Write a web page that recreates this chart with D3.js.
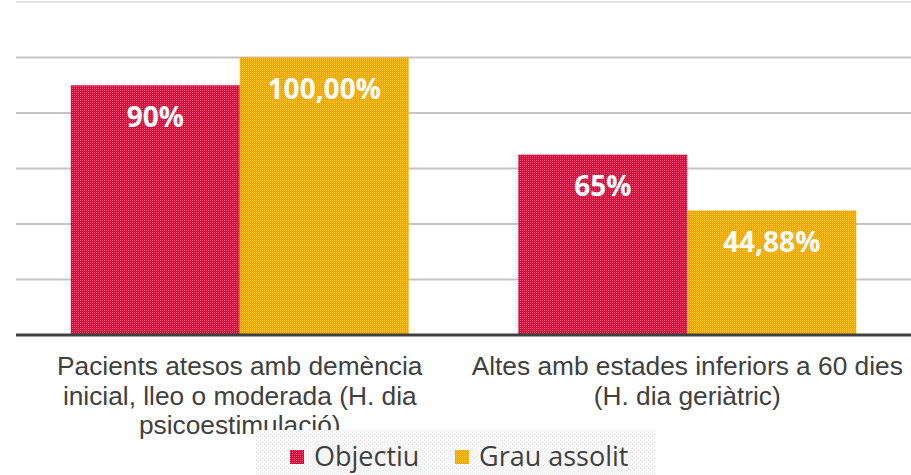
<!DOCTYPE html>
<html>
<head>
<meta charset="utf-8">
<script src="https://cdn.jsdelivr.net/npm/d3@7"></script>
<style>
  body { margin: 0; background: #fff; }
  svg { display: block; }
</style>
</head>
<body>
<svg></svg>
<script>
// Data
const categories = [
    ["Pacients atesos amb demència", "inicial, lleo o moderada (H. dia", "psicoestimulació)"],
    ["Altes amb estades inferiors a 60 dies", "(H. dia geriàtric)"]
];
const seriesNames = ["Objectiu", "Grau assolit"];
const objectiu = [90, 65];
const grauAssolit = [100, 44.88];
const labelsObjectiu = ["90%", "65%"];
const labelsGrau = ["100,00%", "44,88%"];
const yTicks = [0, 20, 40, 60, 80, 100, 120];

const colors = ["#d4103e", "#f0aa00"];
const light = ["#ee6185", "#fbcb45"];

const svgWidth = 911;
const svgHeight = 475;
const margin = { top: 2, right: 0, bottom: 140, left: 16 };
const w = svgWidth - margin.left - margin.right;
const h = 335 - margin.top;

const root = d3.select("svg")
    .attr("width", svgWidth)
    .attr("height", svgHeight);

// Grid-like dithered fill patterns
const defs = root.append("defs");
colors.forEach((c, i) => {
    const p = defs.append("pattern")
        .attr("id", "pat" + i)
        .attr("patternUnits", "userSpaceOnUse")
        .attr("width", 4)
        .attr("height", 4);
    p.append("rect").attr("width", 4).attr("height", 4).attr("fill", c);
    [[0, 0], [2, 0], [0, 2], [2, 2]].forEach(([x, y]) => {
        p.append("rect").attr("x", x).attr("y", y).attr("width", 1).attr("height", 1)
            .attr("fill", light[i]).attr("opacity", 0.7);
    });
});

// legend background texture
const lp = defs.append("pattern")
    .attr("id", "patLegend")
    .attr("patternUnits", "userSpaceOnUse")
    .attr("width", 4)
    .attr("height", 4);
lp.append("rect").attr("width", 4).attr("height", 4).attr("fill", "#f7f7f7");
lp.append("rect").attr("width", 1).attr("height", 1).attr("fill", "#ececec");
lp.append("rect").attr("x", 2).attr("y", 2).attr("width", 1).attr("height", 1).attr("fill", "#ececec");

const svg = root.append("g")
    .attr("transform", `translate(${margin.left}, ${margin.top})`);

// Scales
const x0 = d3.scaleBand()
    .domain(d3.range(categories.length))
    .range([0, w])
    .padding(0);

const x1 = d3.scaleBand()
    .domain([0, 1])
    .range([0, x0.bandwidth()])
    .paddingOuter(0.324)
    .paddingInner(0);

const yScale = d3.scaleLinear()
    .domain([0, 120])
    .range([h, 0]);

// Gridlines
svg.append("g")
    .selectAll("line")
    .data(yTicks.slice(1))
    .enter()
    .append("line")
    .attr("x1", 0)
    .attr("x2", w)
    .attr("y1", d => yScale(d))
    .attr("y2", d => yScale(d))
    .attr("stroke", d => d === 120 ? "#e2e2e2" : "#c4c4c4")
    .attr("stroke-width", 2);

// Bars
const series = [objectiu, grauAssolit];
const labels = [labelsObjectiu, labelsGrau];

series.forEach((vals, s) => {
    svg.selectAll(".bar" + s)
        .data(vals)
        .enter()
        .append("rect")
        .attr("class", "bar" + s)
        .attr("x", (d, i) => x0(i) + x1(s))
        .attr("y", d => yScale(d))
        .attr("width", x1.bandwidth())
        .attr("height", d => h - yScale(d))
        .attr("fill", `url(#pat${s})`);

    svg.selectAll(".lbl" + s)
        .data(vals)
        .enter()
        .append("text")
        .attr("x", (d, i) => x0(i) + x1(s) + x1.bandwidth() / 2)
        .attr("y", d => yScale(d) + 32)
        .attr("dy", "0.35em")
        .attr("text-anchor", "middle")
        .attr("font-family", "'Open Sans', sans-serif")
        .attr("font-weight", "bold")
        .attr("font-size", "28px")
        .attr("fill", "#fff")
        .text((d, i) => labels[s][i]);
});

// Baseline
svg.append("line")
    .attr("x1", 0)
    .attr("x2", w)
    .attr("y1", h)
    .attr("y2", h)
    .attr("stroke", "#404040")
    .attr("stroke-width", 3);

// Category labels
categories.forEach((lines, i) => {
    const t = svg.append("text")
        .attr("text-anchor", "middle")
        .attr("font-family", "'Liberation Sans', Arial, sans-serif")
        .attr("font-size", "26.3px")
        .attr("fill", "#404040");
    lines.forEach((ln, j) => {
        t.append("tspan")
            .attr("x", x0(i) + x0.bandwidth() / 2)
            .attr("y", 375 - margin.top + j * 29.5)
            .text(ln);
    });
});

// Legend
const legend = root.append("g");
legend.append("rect")
    .attr("x", 256)
    .attr("y", 430)
    .attr("width", 400)
    .attr("height", 45)
    .attr("fill", "url(#patLegend)");

const legendX = [290, 455];
seriesNames.forEach((name, s) => {
    legend.append("rect")
        .attr("x", legendX[s])
        .attr("y", 450)
        .attr("width", 14)
        .attr("height", 14)
        .attr("fill", `url(#pat${s})`);
    legend.append("text")
        .attr("x", legendX[s] + 24)
        .attr("y", 466)
        .attr("font-family", "'Open Sans', sans-serif")
        .attr("font-size", "27px")
        .attr("fill", "#404040")
        .text(name);
});
</script>
</body>
</html>
